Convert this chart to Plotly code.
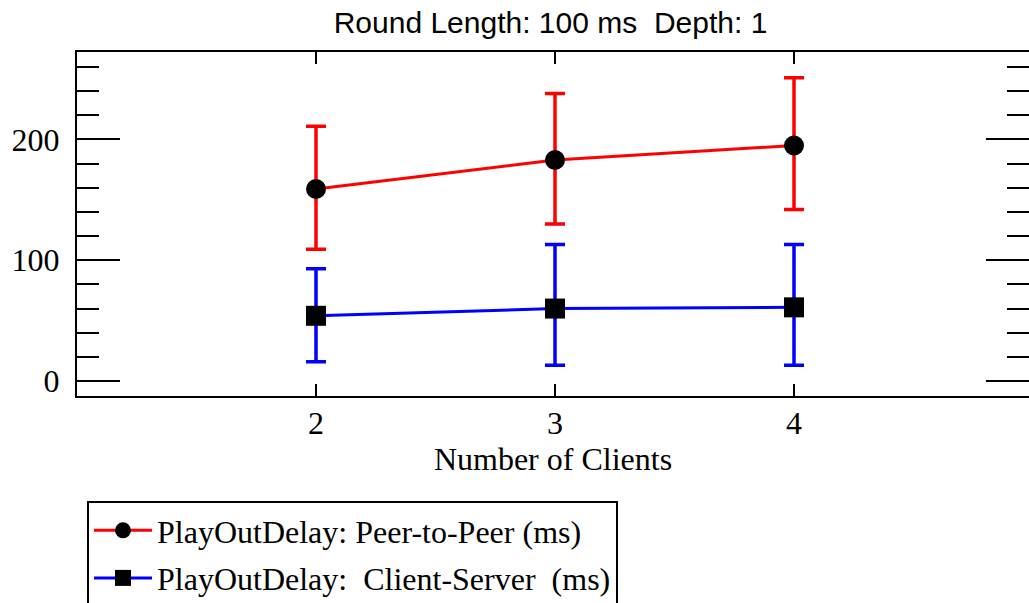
import plotly.graph_objects as go

clients = [2, 3, 4]

p2p_mean = [159, 183, 195]
p2p_err_up = [52, 55, 56]
p2p_err_down = [50, 53, 53]

cs_mean = [54, 60, 61]
cs_err_up = [39, 53, 52]
cs_err_down = [38, 47, 48]

x_ticks = [2, 3, 4]
y_ticks = [0, 100, 200]

serif = "Liberation Serif, Times New Roman, serif"
sans = "Liberation Sans, Arial, sans-serif"

fig = go.Figure()
fig.add_trace(go.Scatter(
    x=clients, y=p2p_mean, mode="lines+markers",
    name="PlayOutDelay: Peer-to-Peer (ms)",
    line=dict(color="#ff0000", width=3),
    marker=dict(symbol="circle", size=20, color="black"),
    error_y=dict(type="data", array=p2p_err_up, arrayminus=p2p_err_down,
                 color="#ff0000", thickness=3.5, width=10),
    legendgroup="a",
))
fig.add_trace(go.Scatter(
    x=clients, y=cs_mean, mode="lines+markers",
    name="PlayOutDelay:\u00a0 Client-Server\u00a0 (ms)",
    line=dict(color="#0000ff", width=3),
    marker=dict(symbol="square", size=20, color="black"),
    error_y=dict(type="data", array=cs_err_up, arrayminus=cs_err_down,
                 color="#0000ff", thickness=3.5, width=10),
    legendgroup="b",
))
# invisible trace so the right-hand tick axis gets drawn
fig.add_trace(go.Scatter(x=[None], y=[None], yaxis="y2", showlegend=False, hoverinfo="skip"))

yr = [-12.4, 272.4]
minor_y = dict(dtick=20, ticklen=22, ticks="inside", tickwidth=2, tickcolor="black")

fig.update_layout(
    width=1029, height=603,
    margin=dict(l=77, r=0, t=52, b=207, autoexpand=False),
    paper_bgcolor="white", plot_bgcolor="white",
    showlegend=True,
    title=dict(text="Round Length: 100 ms\u00a0 Depth: 1", x=0.535, xanchor="center",
               yref="container", y=1 - 22 / 603, yanchor="middle",
               font=dict(family=sans, size=30, color="black")),
    xaxis=dict(range=[1, 1 + 952 / 239], tickvals=x_ticks, ticks="inside", ticklen=12,
               tickwidth=2, tickcolor="black", showline=True, linecolor="black", linewidth=2,
               mirror="ticks", showgrid=False, zeroline=False, automargin=False,
               tickfont=dict(family=serif, size=32, color="black"), ticklabelstandoff=-2,
               title=dict(text="Number of Clients", standoff=5,
                          font=dict(family=serif, size=32, color="black"))),
    yaxis=dict(range=yr, tickvals=y_ticks, ticks="inside", ticklen=43, tickwidth=2,
               tickcolor="black", showline=True, linecolor="black", linewidth=2,
               mirror=False, showgrid=False, zeroline=False, minor=minor_y, automargin=False,
               tickfont=dict(family=serif, size=32, color="black"), ticklabelstandoff=9),
    yaxis2=dict(range=yr, tickvals=y_ticks, overlaying="y", side="right", ticks="inside",
                ticklen=43, tickwidth=2, tickcolor="black", showline=False, automargin=False,
                showticklabels=False, showgrid=False, zeroline=False, minor=minor_y),
    legend=dict(xref="container", yref="container", x=87 / 1029, y=1 - 501 / 603,
                xanchor="left", yanchor="top", itemwidth=58,
                bordercolor="black", borderwidth=2, bgcolor="white",
                font=dict(family=serif, size=32, color="black"),
                traceorder="grouped", tracegroupgap=3),
)

fig.write_html("out.html", config={"displayModeBar": False},
               post_script="document.body.style.margin='0';")
